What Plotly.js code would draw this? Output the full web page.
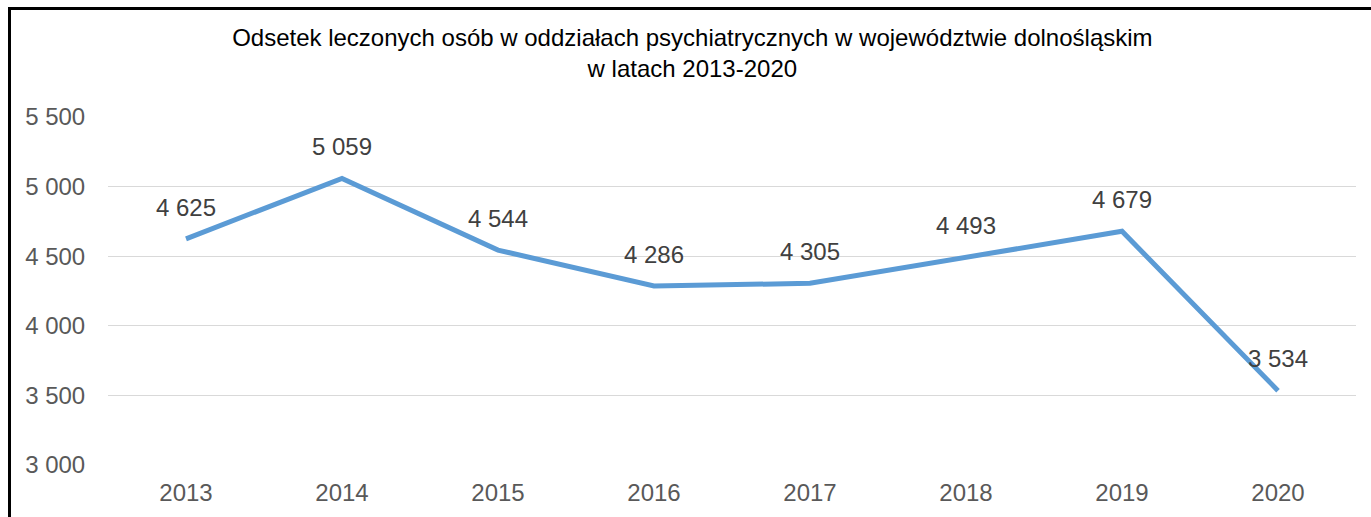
<!DOCTYPE html>
<html><head><meta charset="utf-8">
<script src="https://cdn.plot.ly/plotly-3.0.1.min.js"></script>
<style>
html,body{margin:0;padding:0;background:#fff;}
#frame{position:absolute;left:8px;top:7px;width:1363px;height:510px;border-left:3px solid #000;border-top:3px solid #000;box-sizing:border-box;pointer-events:none;z-index:5;}
#chart{position:absolute;left:0;top:0;width:1371px;height:517px;}
</style></head>
<body>
<div id="chart"></div>
<div id="frame"></div>
<script>
const years = ['2013','2014','2015','2016','2017','2018','2019','2020'];
const values = [4625, 5059, 4544, 4286, 4305, 4493, 4679, 3534];
const tickVals = [3000, 3500, 4000, 4500, 5000, 5500];
const titleText = 'Odsetek leczonych osób w oddziałach psychiatrycznych w województwie dolnośląskim<br>w latach 2013-2020';

const fmt = v => String(v).replace(/\B(?=(\d{3})+(?!\d))/g, ' ');
const FONT = 'Liberation Sans, Arial, sans-serif';

const trace = {
  x: years, y: values, type: 'scatter', mode: 'lines+markers+text',
  line: {color: '#5B9BD5', width: 5},
  marker: {size: 26, color: 'rgba(0,0,0,0)'},
  text: values.map(fmt), textposition: 'top center',
  textfont: {family: FONT, size: 24, color: '#404040'},
  cliponaxis: false, hoverinfo: 'none'
};
const layout = {
  width: 1371, height: 517,
  margin: {l: 108, r: 15, t: 117, b: 52},
  paper_bgcolor: '#fff', plot_bgcolor: '#fff',
  showlegend: false,
  title: {text: titleText, x: 0.505, xref: 'container', xanchor: 'center', y: 0.911, yanchor: 'top',
    font: {family: FONT, size: 24, color: '#000'}},
  xaxis: {type: 'category', range: [-0.5, 7.5], showgrid: false, zeroline: false, showline: false,
    ticks: 'outside', ticklen: 6, tickcolor: 'rgba(0,0,0,0)',
    tickfont: {family: FONT, size: 24, color: '#595959'}},
  yaxis: {range: [3000, 5500], tickvals: tickVals, ticktext: tickVals.map(fmt), showgrid: true,
    gridcolor: '#d9d9d9', gridwidth: 1, zeroline: false, showline: false,
    ticks: 'outside', ticklen: 17, tickcolor: 'rgba(0,0,0,0)',
    tickfont: {family: FONT, size: 24, color: '#595959'}}
};
Plotly.newPlot('chart', [trace], layout, {displayModeBar: false, staticPlot: true});
</script>
</body></html>
